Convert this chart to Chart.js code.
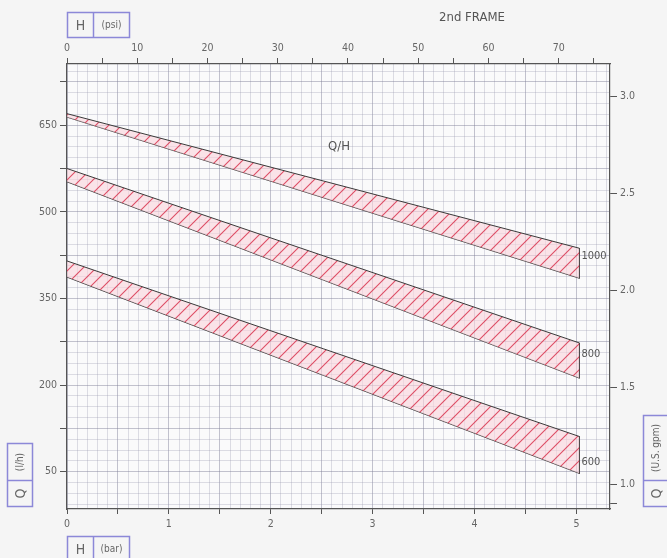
<!DOCTYPE html>
<html>
<head>
<meta charset="utf-8">
<script src="https://cdn.jsdelivr.net/npm/chart.js@4.4.1/dist/chart.umd.min.js"></script>
<style>
  html, body { margin: 0; padding: 0; background: #f5f5f5; }
  canvas { display: block; }
</style>
</head>
<body>
<canvas id="chart" width="667" height="558"></canvas>
<script>
// pressure (bar) at the two ends of every band
const pressureBar = [0, 5.03];
// flow Q (l/h), upper and lower edge of each band
const band1000Upper = [670, 437];
const band1000Lower = [664, 385];
const band800Upper = [575, 273];
const band800Lower = [552, 212];
const band600Upper = [415, 111];
const band600Lower = [387, 47];
const bandNames = ["1000", "800", "600"];
const bandLabelQ = [423, 254, 66];

const barTicks = [0, 1, 2, 3, 4, 5];
const psiTicks = [0, 10, 20, 30, 40, 50, 60, 70];
const flowTicks = [50, 200, 350, 500, 650];
const gpmTicks = [1.0, 1.5, 2.0, 2.5, 3.0];

const FONT = '"DejaVu Sans Condensed", "DejaVu Sans", sans-serif';
const INK = "#555";
const TEXT = "#666";
const BOX = "#8c88d8";
const GRID_LIGHT = "rgba(150,150,172,0.3)";
const GRID_DARK = "rgba(125,125,148,0.45)";

function hatch() {
  const s = 13;
  const c = document.createElement("canvas");
  c.width = s; c.height = s;
  const g = c.getContext("2d");
  g.fillStyle = "rgba(250,212,220,0.6)";
  g.fillRect(0, 0, s, s);
  g.strokeStyle = "rgba(220,62,86,0.9)";
  g.lineWidth = 1.1;
  g.beginPath();
  g.moveTo(0, s); g.lineTo(s, 0);
  g.moveTo(-1, 1); g.lineTo(1, -1);
  g.moveTo(s - 1, s + 1); g.lineTo(s + 1, s - 1);
  g.stroke();
  return g.createPattern(c, "repeat");
}
const pattern = hatch();

const pts = arr => pressureBar.map((p, i) => ({ x: p, y: arr[i] }));
const last = pressureBar.length - 1;
const bands = [
  [band1000Upper, band1000Lower],
  [band800Upper, band800Lower],
  [band600Upper, band600Lower],
];
const lineStyle = { borderColor: "#3a3a3a", borderWidth: 1, pointRadius: 0, tension: 0 };
const datasets = [];
bands.forEach(([up, lo], i) => {
  datasets.push({ label: bandNames[i] + " max", data: pts(up), fill: "+1", backgroundColor: pattern, ...lineStyle });
  datasets.push({ label: bandNames[i] + " min", data: pts(lo), fill: false, ...lineStyle });
  datasets.push({
    label: bandNames[i] + " end",
    data: [{ x: pressureBar[last], y: up[last] }, { x: pressureBar[last], y: lo[last] }],
    fill: false, ...lineStyle
  });
});

// helpers for tick lists
const near = (a, b) => Math.abs(a - b) < 1e-6;
const inList = (list, v) => list.some(t => near(t, v));

const gridX = [];
for (let i = 0; i <= 53; i++) gridX.push(i / 10);
const gridY = [];
for (let k = -3; k <= 37; k++) gridY.push(50 + k * 18.75);

const decor = {
  id: "decor",
  beforeDraw(chart) {
    const { ctx, chartArea: a } = chart;
    ctx.save();
    ctx.fillStyle = "#f5f5f5";
    ctx.fillRect(0, 0, chart.width, chart.height);
    ctx.fillStyle = "#fafafb";
    ctx.fillRect(a.left, a.top, a.right - a.left, a.bottom - a.top);
    ctx.restore();
  },
  afterDraw(chart) {
    const { ctx } = chart;
    const xs = chart.scales.x, ys = chart.scales.y;
    ctx.save();
    ctx.fillStyle = INK;
    ctx.textBaseline = "middle";

    // band labels next to the right edge
    ctx.font = "11px " + FONT;
    ctx.textAlign = "left";
    bandNames.forEach((n, i) => {
      ctx.fillText(n, xs.getPixelForValue(pressureBar[last]) + 2, ys.getPixelForValue(bandLabelQ[i]));
    });

    ctx.font = "13px " + FONT;
    ctx.textAlign = "center";
    ctx.fillText("Q/H", xs.getPixelForValue(2.67), ys.getPixelForValue(613));

    ctx.font = "13px " + FONT;
    ctx.fillText("2nd FRAME", 472, 18);

    // unit boxes
    ctx.strokeStyle = BOX;
    ctx.lineWidth = 1.5;
    ctx.fillStyle = TEXT;
    const hbox = (y, h, unit) => {
      ctx.strokeRect(67.5, y, 62, h);
      ctx.beginPath(); ctx.moveTo(93.5, y); ctx.lineTo(93.5, y + h); ctx.stroke();
      ctx.textAlign = "center";
      ctx.font = "14px " + FONT;
      ctx.fillText("H", 80.5, y + h / 2 + 1);
      ctx.font = "10px " + FONT;
      ctx.fillText(unit, 111.5, y + h / 2);
    };
    hbox(12.5, 25, "(psi)");
    hbox(536.5, 26, "(bar)");

    const vbox = (x, w, top, split, unit) => {
      ctx.strokeRect(x, top, w, 506.5 - top);
      ctx.beginPath(); ctx.moveTo(x, split); ctx.lineTo(x + w, split); ctx.stroke();
      const cx = x + 12.5;
      ctx.save();
      ctx.translate(cx, (split + 506.5) / 2);
      ctx.rotate(-Math.PI / 2);
      ctx.font = "14px " + FONT;
      ctx.fillText("Q", 0, 1);
      ctx.restore();
      ctx.save();
      ctx.translate(cx, (top + split) / 2);
      ctx.rotate(-Math.PI / 2);
      ctx.font = "10px " + FONT;
      ctx.fillText(unit, 0, 0);
      ctx.restore();
    };
    vbox(7.5, 25, 443.5, 480.5, "(l/h)");
    vbox(643.5, 30, 415.5, 480.5, "(U.S. gpm)");
    ctx.restore();
  }
};

const tickFont = { family: FONT, size: 10.5 };
const border = { color: INK, width: 1.2 };

new Chart(document.getElementById("chart"), {
  type: "line",
  data: { datasets },
  options: {
    responsive: false,
    animation: false,
    layout: { padding: 0 },
    plugins: { legend: { display: false }, tooltip: { enabled: false }, title: { display: false } },
    scales: {
      x: {
        type: "linear", position: "bottom", min: 0, max: 5.33,
        afterBuildTicks: s => { s.ticks = gridX.map(v => ({ value: v })); },
        afterFit: s => { s.height = 49; },
        border,
        grid: {
          color: c => (Math.round(c.tick.value * 10) % 5 === 0 ? GRID_DARK : GRID_LIGHT),
          tickColor: c => (Math.round(c.tick.value * 10) % 5 === 0 ? INK : "rgba(0,0,0,0)"),
          tickLength: 5
        },
        ticks: {
          autoSkip: false, maxRotation: 0, padding: 4, color: TEXT, font: tickFont,
          callback: v => (inList(barTicks, v) ? String(Math.round(v)) : "")
        }
      },
      x2: {
        type: "linear", position: "top", min: 0, max: 5.33 * 14.5038,
        afterBuildTicks: s => {
          const t = [];
          for (let v = 0; v <= 75; v += 5) t.push({ value: v });
          s.ticks = t;
        },
        afterFit: s => { s.height = 64; },
        border,
        grid: { drawOnChartArea: false, tickColor: INK, tickLength: 6 },
        ticks: {
          autoSkip: false, maxRotation: 0, padding: 3, color: TEXT, font: tickFont,
          callback: v => (inList(psiTicks, v) ? String(v) : "")
        }
      },
      y: {
        type: "linear", position: "left", min: -14.5, max: 756,
        afterBuildTicks: s => { s.ticks = gridY.map(v => ({ value: v })); },
        afterFit: s => { s.width = 67; },
        border,
        grid: {
          color: c => (Math.round((c.tick.value - 50) / 18.75) % 4 === 0 ? GRID_DARK : GRID_LIGHT),
          tickColor: c => (Math.round((c.tick.value - 50) / 18.75) % 4 === 0 ? INK : "rgba(0,0,0,0)"),
          tickLength: 7
        },
        ticks: {
          autoSkip: false, padding: 3, color: TEXT, font: tickFont,
          callback: v => (inList(flowTicks, v) ? String(Math.round(v)) : "")
        }
      },
      y2: {
        type: "linear", position: "right", min: 0.872, max: 3.167,
        afterBuildTicks: s => { s.ticks = [0.9, ...gpmTicks].map(v => ({ value: v })); },
        afterFit: s => { s.width = 57; },
        border,
        grid: { drawOnChartArea: false, tickColor: INK, tickLength: 7 },
        ticks: {
          autoSkip: false, padding: 3, color: TEXT, font: tickFont,
          callback: v => (inList(gpmTicks, v) ? v.toFixed(1) : "")
        }
      }
    }
  },
  plugins: [decor]
});
</script>
</body>
</html>
